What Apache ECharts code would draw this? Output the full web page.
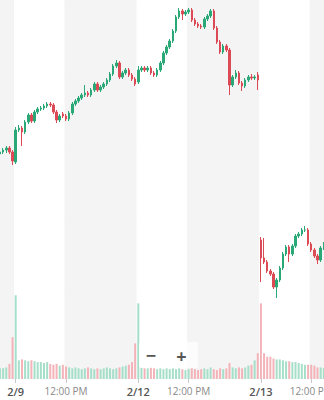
<!DOCTYPE html>
<html>
<head>
<meta charset="utf-8">
<script src="https://cdn.jsdelivr.net/npm/echarts@6.0.0/dist/echarts.min.js"></script>
<style>
html,body{margin:0;padding:0;background:#fff;}
#chart{width:324px;height:400px;}
</style>
</head>
<body>
<div id="chart"></div>
<script>
// ---- data (10-minute bars) ----
const dayNames = ['2/6', '2/9', '2/12', '2/13'];
const barsPerDay = [5, 39, 39, 39];
const tickIndex = [5, 21, 44, 60, 83, 99];
const tickText = ['2/9', '12:00 PM', '2/12', '12:00 PM', '2/13', '12:00 PM'];

const opens = [
  276, 278, 280, 282, 278, 268, 300, 302, 298, 308,
  315, 309, 318, 321, 322, 324, 326, 325, 318, 310,
  316, 314, 311, 317, 326, 329, 332, 335, 337, 335,
  340, 346, 340, 343, 346, 350, 356, 364, 367, 353,
  357, 360, 355, 351, 348, 360, 362, 360, 362, 357,
  355, 360, 367, 377, 383, 389, 399, 413, 419, 416,
  418, 420, 410, 406, 404, 403, 411, 414, 419, 402,
  388, 378, 384, 380, 345, 353, 357, 347, 344, 350,
  353, 352, 355, 190, 172, 168, 159, 156, 143, 150,
  162, 176, 183, 176, 184, 194, 196, 200, 200, 186,
  180, 174, 170, 182
];
const closes = [
  278, 280, 282, 278, 269, 300, 302, 298, 308, 315,
  309, 318, 321, 322, 324, 326, 325, 318, 310, 314,
  314, 311, 317, 326, 329, 332, 335, 337, 335, 340,
  346, 340, 343, 346, 350, 356, 364, 367, 353, 357,
  360, 355, 351, 346, 360, 362, 360, 362, 357, 355,
  360, 367, 377, 383, 389, 399, 413, 419, 416, 418,
  420, 410, 406, 404, 403, 411, 414, 419, 402, 388,
  378, 384, 380, 345, 353, 357, 347, 344, 350, 353,
  352, 353, 350, 172, 168, 159, 156, 143, 150, 162,
  176, 183, 176, 184, 194, 196, 200, 200, 186, 180,
  174, 170, 182, 185
];
const lows = [
  274, 276, 277, 276, 265, 266, 298, 284, 296, 306,
  307, 307, 316, 319, 320, 322, 323, 316, 307, 308,
  312, 309, 309, 315, 324, 327, 330, 333, 333, 333,
  338, 338, 338, 341, 344, 348, 354, 362, 351, 351,
  355, 353, 349, 344, 346, 358, 358, 358, 355, 353,
  353, 358, 365, 375, 381, 387, 397, 411, 410, 414,
  416, 408, 404, 402, 401, 401, 409, 412, 400, 386,
  376, 376, 378, 335, 343, 351, 345, 339, 342, 348,
  350, 350, 340, 148, 166, 157, 154, 141, 132, 148,
  160, 174, 168, 174, 182, 192, 194, 198, 184, 178,
  172, 166, 168, 180
];
const highs = [
  280, 282, 284, 284, 280, 303, 305, 304, 310, 317,
  317, 320, 323, 324, 326, 328, 328, 327, 320, 316,
  318, 316, 319, 328, 331, 334, 337, 345, 339, 342,
  348, 348, 345, 348, 352, 358, 366, 370, 369, 359,
  362, 362, 357, 353, 364, 364, 364, 364, 364, 359,
  362, 369, 379, 385, 391, 401, 415, 422, 421, 420,
  422, 422, 412, 408, 406, 413, 416, 421, 421, 404,
  390, 386, 386, 382, 355, 360, 359, 349, 352, 355,
  356, 355, 358, 193, 192, 170, 161, 158, 152, 164,
  178, 185, 185, 186, 196, 198, 202, 204, 202, 188,
  182, 176, 184, 188
];
const volumes = [
  12, 12, 13, 17, 47, 94, 21, 22, 21, 20,
  21, 20, 19, 19, 18, 19, 17, 16, 17, 15,
  16, 14, 13, 12, 13, 12, 11, 12, 13, 12,
  11, 12, 11, 12, 13, 12, 11, 12, 13, 14,
  15, 16, 19, 40, 85, 13, 12, 12, 13, 12,
  11, 12, 11, 12, 11, 12, 11, 12, 11, 10,
  11, 12, 11, 10, 11, 12, 11, 13, 11, 10,
  12, 11, 12, 18, 13, 12, 13, 12, 13, 15,
  16, 21, 29, 85, 29, 25, 25, 23, 22, 22,
  21, 20, 20, 19, 19, 18, 17, 16, 16, 16,
  15, 13, 13, 12
];

// ---- build categories ----
const categories = [];
dayNames.forEach((d, di) => {
  const n = barsPerDay[di];
  const offset = 39 - n;
  for (let k = 0; k < n; k++) {
    const m = 9 * 60 + 30 + 10 * (k + offset);
    const hh = Math.floor(m / 60), mm = m % 60;
    categories.push(d + ' ' + hh + ':' + (mm < 10 ? '0' : '') + mm);
  }
});

const UP = '#2ba877', DOWN = '#db4a55';
const VUP = '#a6dfc9', VDOWN = '#f3b3b8';

const candleData = opens.map((o, i) => [o, closes[i], lows[i], highs[i]]);
const volData = volumes.map((v, i) => ({
  value: v,
  itemStyle: { color: closes[i] >= opens[i] ? VUP : VDOWN }
}));

const isTick = (idx) => tickIndex.indexOf(idx) >= 0;
const bandW = 3.144;
const gridLeft = -1.6;
const gridWidth = categories.length * bandW;

const gridBase = { left: gridLeft, width: gridWidth, containLabel: false, outerBoundsMode: 'none' };

const chart = echarts.init(document.getElementById('chart'), null, { renderer: 'svg' });
chart.setOption({
  animation: false,
  backgroundColor: '#ffffff',
  grid: [
    Object.assign({ top: 0, height: 379 }, gridBase),
    Object.assign({ top: 4, height: 284 }, gridBase),
    Object.assign({ top: 290, height: 89 }, gridBase)
  ],
  xAxis: [
    {
      type: 'category', gridIndex: 0, data: categories, boundaryGap: true,
      axisLine: { show: false }, axisTick: { show: false }, axisLabel: { show: false },
      splitLine: { show: false },
      splitArea: { show: true, interval: (i) => isTick(i), areaStyle: { color: ['#f4f4f4', '#ffffff'] } }
    },
    {
      type: 'category', gridIndex: 1, data: categories, boundaryGap: true, show: false
    },
    {
      type: 'category', gridIndex: 2, data: categories, boundaryGap: true,
      axisLine: { show: false },
      axisTick: { show: true, alignWithLabel: true, interval: (i) => isTick(i), length: 4, lineStyle: { color: '#c9c9c9' } },
      axisLabel: {
        show: true, interval: (i) => isTick(i), margin: 7,
        fontFamily: 'Open Sans',
        formatter: (v, i) => {
          const k = tickIndex.indexOf(i);
          if (k < 0) return '';
          const t = tickText[k];
          return t.indexOf('PM') >= 0 ? '{t|' + t + '}' : '{d|' + t + '}';
        },
        rich: {
          d: { fontSize: 11, fontWeight: 600, color: '#555555', fontFamily: 'Open Sans' },
          t: { fontSize: 10, color: '#8a8a8a', fontFamily: 'Open Sans' }
        }
      },
      splitLine: { show: false }
    }
  ],
  yAxis: [
    { type: 'value', gridIndex: 0, show: false, min: 0, max: 1 },
    {
      type: 'value', gridIndex: 1, min: 142, max: 426, interval: 71,
      axisLine: { show: false }, axisTick: { show: false }, axisLabel: { show: false },
      splitLine: { show: true, lineStyle: { color: '#ececec', width: 1 } }
    },
    { type: 'value', gridIndex: 2, min: 0, max: 100, show: false, splitLine: { show: false } }
  ],
  series: [
    {
      type: 'candlestick', xAxisIndex: 1, yAxisIndex: 1, data: candleData,
      clip: false, barWidth: 2,
      itemStyle: { color: UP, color0: DOWN, borderColor: UP, borderColor0: DOWN, borderWidth: 1 }
    },
    {
      type: 'bar', xAxisIndex: 2, yAxisIndex: 2, data: volData, barWidth: 2
    }
  ],
  graphic: [
    { type: 'rect', left: 139, top: 342, shape: { width: 59, height: 26, r: 2 }, style: { fill: 'rgba(255,255,255,0.72)' }, z: 100 },
    { type: 'text', x: 151, y: 355, style: { text: '−', fill: '#555555', font: 'bold 18px "Open Sans"', align: 'center', verticalAlign: 'middle' }, z: 101 },
    { type: 'text', x: 181.5, y: 356, style: { text: '+', fill: '#555555', font: 'bold 18px "Open Sans"', align: 'center', verticalAlign: 'middle' }, z: 101 }
  ]
});
</script>
</body>
</html>
